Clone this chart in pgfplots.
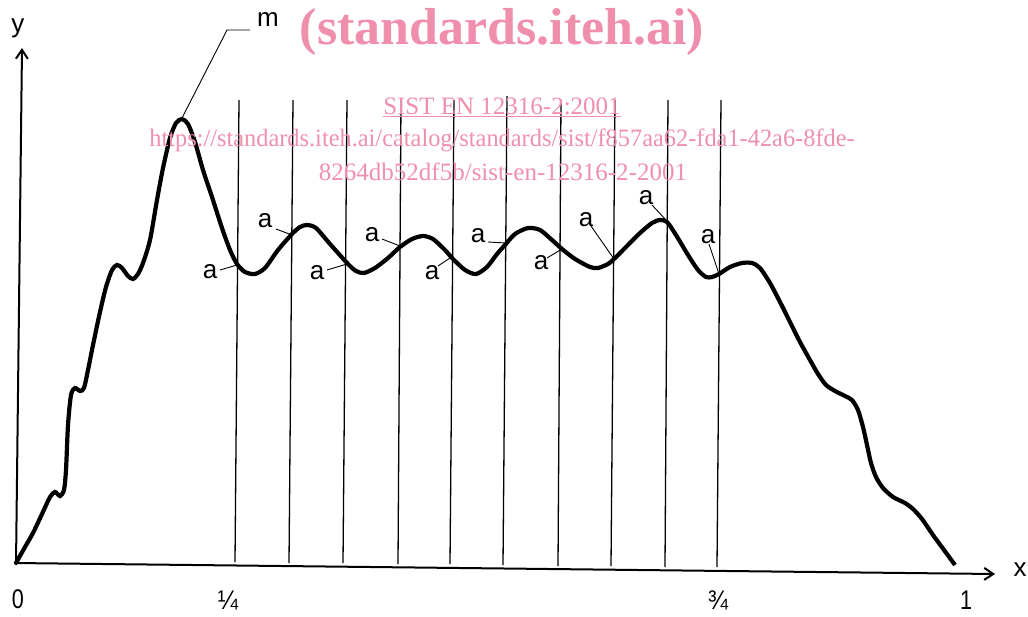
\documentclass[border=0pt]{standalone}
\usepackage{pgfplots}
\pgfplotsset{compat=1.18}
\usepackage{fontspec}
\setmainfont{Liberation Sans}
\newfontfamily\wmfont{Liberation Serif}
\usetikzlibrary{arrows.meta}
\definecolor{wm}{RGB}{239,143,172}
\begin{document}
\begin{tikzpicture}
\begin{axis}[
  scale only axis, width=1028pt, height=616pt,
  xmin=0, xmax=1028, ymin=0, ymax=616,
  hide axis, clip=false,
  y dir=reverse,
]
% axes
\addplot[line width=2pt, -{Straight Barb[length=9pt,width=12pt,line width=2pt]}] coordinates {(14,563) (995,574)};
\addplot[line width=2pt, -{Straight Barb[length=9pt,width=12pt,line width=2pt]}] coordinates {(16,565) (22,48)};
% vertical lines
\addplot[line width=1.3pt] coordinates {(239,100) (235,562)};
\addplot[line width=1.3pt] coordinates {(293,100) (289,563)};
\addplot[line width=1.3pt] coordinates {(347,100) (343,563)};
\addplot[line width=1.3pt] coordinates {(401,100) (398,564)};
\addplot[line width=1.3pt] coordinates {(454,100) (450,564)};
\addplot[line width=1.3pt] coordinates {(507,96) (503,565)};
\addplot[line width=1.3pt] coordinates {(561,100) (558,566)};
\addplot[line width=1.3pt] coordinates {(615,100) (611,566)};
\addplot[line width=1.3pt] coordinates {(668,100) (665,567)};
\addplot[line width=1.3pt] coordinates {(721,100) (717,567)};
% curve
\addplot[line width=4.2pt, smooth, tension=0.45] coordinates {
(16,563)(25,547)(33,533)(42,514)(50,497)(55,492)(60,496)(64,490)(66,470)(68,425)(71,395)(75,388)(80,391)(84,388)(88,370)(93,345)(100,312)(106,287)(112,270)(117,265)(122,268)(128,276)(133,279)(138,274)(143,263)(150,240)(157,200)(163,168)(170,138)(176,123)(182,119)(188,124)(195,142)(203,170)(212,197)(222,228)(230,250)(237,264)(245,272)(255,274)(265,268)(278,250)(292,234)(300,227)(307,225)(316,228)(330,244)(348,264)(356,271)(364,273)(375,268)(388,258)(400,247)(412,239)(423,236)(433,239)(445,250)(453,259)(465,270)(476,274)(487,267)(497,254)(505,245)(515,234)(528,228)(540,230)(552,240)(562,249)(575,259)(590,267)(598,268)(608,264)(614,259)(625,248)(640,233)(652,223)(660,220)(667,222)(676,235)(688,255)(698,270)(706,277)(712,277)(719,274)(730,267)(742,263)(752,263)(760,268)(770,283)(780,302)(790,322)(800,342)(810,360)(818,374)(826,385)(835,391)(845,396)(852,400)(858,410)(863,427)(867,445)(871,463)(876,477)(883,488)(893,497)(905,503)(913,509)(922,519)(933,535)(944,550)(955,565)};
% leader lines
\addplot[line width=0.9pt] coordinates {(182,118) (227,30) (250,30)};
\addplot[line width=0.9pt] coordinates {(220,270) (237,265)};
\addplot[line width=0.9pt] coordinates {(276,229) (292,235)};
\addplot[line width=0.9pt] coordinates {(327,270) (347,264)};
\addplot[line width=0.9pt] coordinates {(382,239) (400,246)};
\addplot[line width=0.9pt] coordinates {(438,266) (453,256)};
\addplot[line width=0.9pt] coordinates {(488,242) (506,243)};
\addplot[line width=0.9pt] coordinates {(547,258) (562,249)};
\addplot[line width=0.9pt] coordinates {(591,226) (614,259)};
\addplot[line width=0.9pt] coordinates {(652,205) (666,220)};
\addplot[line width=0.9pt] coordinates {(709,244) (719,274)};
% labels
\begin{scope}[every node/.style={font=\fontsize{26}{26}\selectfont, inner sep=0pt}]
\node at (axis cs:268,20) {m};
\node at (axis cs:18,28) {y};
\node at (axis cs:1020,570) {x};
\node at (axis cs:210,272) {a};
\node at (axis cs:265,221) {a};
\node at (axis cs:317,273) {a};
\node at (axis cs:372,235) {a};
\node at (axis cs:432,273) {a};
\node at (axis cs:478,236) {a};
\node at (axis cs:541,263) {a};
\node at (axis cs:586,220) {a};
\node at (axis cs:646,198) {a};
\node at (axis cs:708,237) {a};
\end{scope}
\begin{scope}[every node/.style={font=\fontsize{27}{27}\selectfont, inner sep=0pt}]
\node at (axis cs:18,599) {\scalebox{0.8}[1]{0}};
\node at (axis cs:228,600) {\scalebox{0.9}[1]{¼}};
\node at (axis cs:718,600) {\scalebox{0.9}[1]{¾}};
\node at (axis cs:966,600) {\scalebox{0.8}[1]{1}};
\end{scope}
% watermark
\node[text=wm, inner sep=0pt, font=\wmfont\bfseries\fontsize{52}{52}\selectfont] at (axis cs:502,32) {(standards.iteh.ai)};
\node[text=wm, inner sep=0pt, font=\wmfont\fontsize{25}{25}\selectfont] at (axis cs:502,107) {\underline{SIST EN 12316-2:2001}};
\node[text=wm, inner sep=0pt, font=\wmfont\fontsize{25}{25}\selectfont] at (axis cs:502,140) {\scalebox{0.975}[1]{https://standards.iteh.ai/catalog/standards/sist/f857aa62-fda1-42a6-8fde-}};
\node[text=wm, inner sep=0pt, font=\wmfont\fontsize{25}{25}\selectfont] at (axis cs:503,172) {8264db52df5b/sist-en-12316-2-2001};
\end{axis}
\pgfresetboundingbox
\path (current axis.south west) rectangle (current axis.north east);
\end{tikzpicture}
\end{document}
